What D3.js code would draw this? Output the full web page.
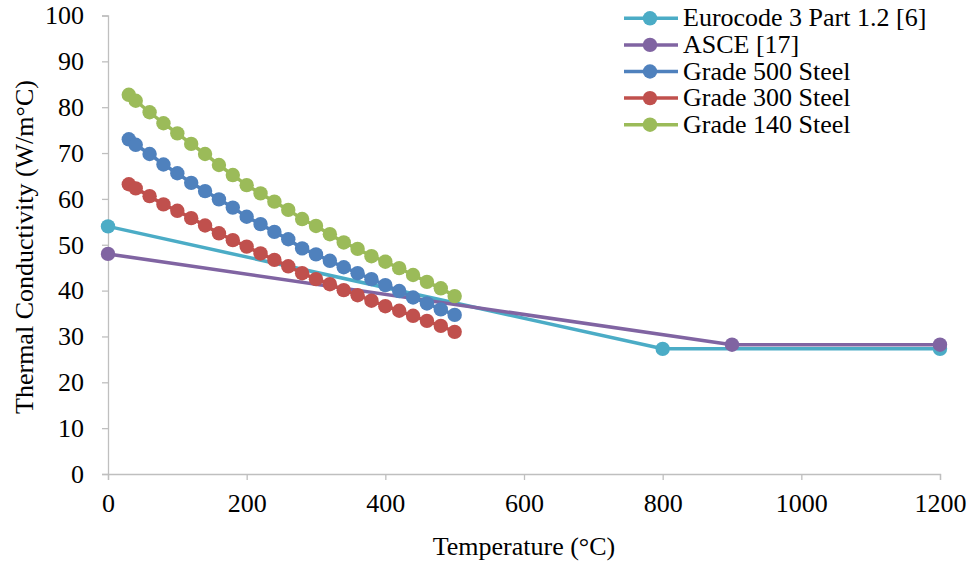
<!DOCTYPE html>
<html>
<head>
<meta charset="utf-8">
<script src="https://cdn.jsdelivr.net/npm/d3@7"></script>
<style>
  html, body { margin: 0; padding: 0; background: #fff; }
  svg { display: block; }
</style>
</head>
<body>
<svg id="chart" width="974" height="565"></svg>
<script>
// Temperatures (°C) for the measured steel grades
const gradeTemps = [30, 40, 60, 80, 100, 120, 140, 160, 180, 200, 220, 240, 260,
                    280, 300, 320, 340, 360, 380, 400, 420, 440, 460, 480, 500];

// Thermal conductivity (W/m°C)
const grade500 = [73.0, 71.8, 69.8, 67.5, 65.6, 63.5, 61.7, 59.9, 58.1, 56.1, 54.5, 52.8, 51.2,
                  49.2, 47.9, 46.5, 45.1, 43.8, 42.5, 41.2, 39.9, 38.5, 37.2, 35.9, 34.7];
const grade300 = [63.2, 62.3, 60.6, 58.8, 57.4, 55.8, 54.2, 52.5, 51.0, 49.6, 48.1, 46.7, 45.3,
                  43.8, 42.5, 41.4, 40.1, 39.0, 37.8, 36.6, 35.6, 34.5, 33.4, 32.3, 31.0];
const grade140 = [82.7, 81.4, 78.9, 76.5, 74.3, 72.0, 69.8, 67.4, 65.2, 63.0, 61.2, 59.4, 57.6,
                  55.6, 54.1, 52.3, 50.5, 49.1, 47.5, 46.3, 44.9, 43.4, 41.9, 40.5, 38.8];

// Code-based models
const eurocodeTemps = [0, 800, 1200];
const eurocodeVals  = [54.0, 27.3, 27.3];
const asceTemps = [0, 900, 1200];
const asceVals  = [48.0, 28.2, 28.2];

const seriesNames = ["Eurocode 3 Part 1.2 [6]", "ASCE [17]", "Grade 500 Steel", "Grade 300 Steel", "Grade 140 Steel"];
const seriesColors = ["#4BACC6", "#8064A2", "#4F81BD", "#C0504D", "#9BBB59"];

const xTicks = [0, 200, 400, 600, 800, 1000, 1200];
const yTicks = [0, 10, 20, 30, 40, 50, 60, 70, 80, 90, 100];

const xTitle = "Temperature (°C)";
const yTitle = "Thermal Conductivity (W/m°C)";

const series = [
  { name: seriesNames[0], color: seriesColors[0], xs: eurocodeTemps, ys: eurocodeVals },
  { name: seriesNames[1], color: seriesColors[1], xs: asceTemps, ys: asceVals },
  { name: seriesNames[2], color: seriesColors[2], xs: gradeTemps, ys: grade500 },
  { name: seriesNames[3], color: seriesColors[3], xs: gradeTemps, ys: grade300 },
  { name: seriesNames[4], color: seriesColors[4], xs: gradeTemps, ys: grade140 }
];

const FONT = "'Liberation Serif'";
const FS = "26px";
const axisColor = "#BFBFBF";

const svg = d3.select("#chart");

const x = d3.scaleLinear().domain([0, 1200]).range([108, 940]);
const y = d3.scaleLinear().domain([0, 100]).range([474, 15.5]);

function styleText(sel) {
  sel.style("font-family", FONT).style("font-size", FS).style("fill", "#000");
}

// Y axis
const yAxis = svg.append("g").attr("transform", `translate(${x(0)},0)`)
  .call(d3.axisLeft(y).tickValues(yTicks).tickSize(6).tickPadding(18).tickFormat(d3.format("d")));
yAxis.attr("font-family", null);
yAxis.select(".domain").attr("stroke", axisColor).attr("stroke-width", 1.3);
yAxis.selectAll(".tick line").attr("stroke", axisColor).attr("stroke-width", 1.3);
yAxis.selectAll(".tick text").call(styleText);

// X axis
const xAxis = svg.append("g").attr("transform", `translate(0,${y(0)})`)
  .call(d3.axisBottom(x).tickValues(xTicks).tickSize(6).tickPadding(14).tickFormat(d3.format("d")));
xAxis.attr("font-family", null);
xAxis.select(".domain").attr("stroke", axisColor).attr("stroke-width", 1.3);
xAxis.selectAll(".tick line").attr("stroke", axisColor).attr("stroke-width", 1.3);
xAxis.selectAll(".tick text").call(styleText);

// Axis titles
svg.append("text").attr("x", 524).attr("y", 555).attr("text-anchor", "middle")
  .call(styleText).text(xTitle);
svg.append("text").attr("transform", "translate(33,247) rotate(-90)").attr("text-anchor", "middle")
  .call(styleText).text(yTitle);

// Series: connecting line plus circular markers, drawn in legend order
const line = d3.line().x(d => x(d[0])).y(d => y(d[1]));
const plot = svg.append("g");
series.forEach(s => {
  const pts = s.xs.map((t, i) => [t, s.ys[i]]);
  const g = plot.append("g");
  g.append("path").datum(pts).attr("d", line)
    .attr("fill", "none").attr("stroke", s.color).attr("stroke-width", 3.5).attr("stroke-linejoin", "round");
  g.selectAll("circle").data(pts).join("circle")
    .attr("cx", d => x(d[0])).attr("cy", d => y(d[1])).attr("r", 7.2)
    .attr("fill", s.color);
});

// Legend
const legend = svg.append("g");
series.forEach((s, i) => {
  const ly = 18.3 + i * 26.6;
  const row = legend.append("g").attr("transform", `translate(0,${ly})`);
  row.append("line").attr("x1", 624).attr("x2", 678).attr("y1", 0).attr("y2", 0)
    .attr("stroke", s.color).attr("stroke-width", 3.5);
  row.append("circle").attr("cx", 650).attr("cy", 0).attr("r", 7.2).attr("fill", s.color);
  row.append("text").attr("x", 683).attr("y", 0).attr("dy", "0.31em")
    .call(styleText).text(s.name);
});
</script>
</body>
</html>
